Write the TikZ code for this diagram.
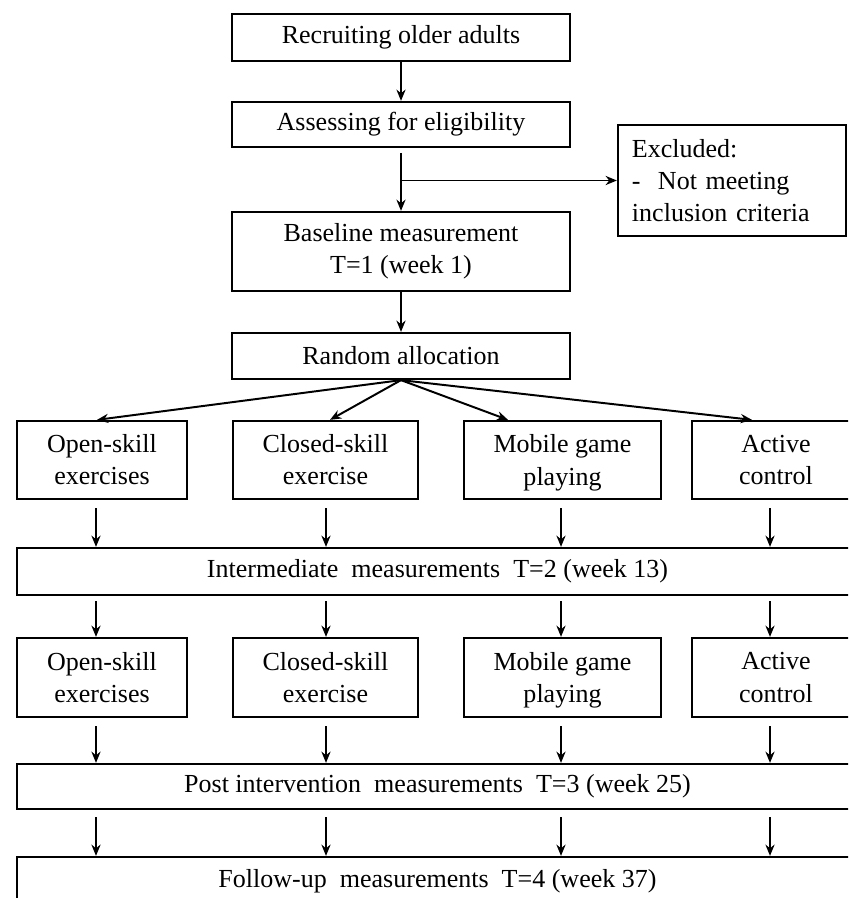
\documentclass[tikz,border=0pt]{standalone}
\usepackage{fontspec}
\setmainfont{Liberation Serif}
\usetikzlibrary{arrows.meta,calc}

\begin{document}
\begin{tikzpicture}[x=0.025cm, y=-0.025cm, font=\fontsize{18.5}{22.8}\selectfont,
    box/.style={draw, line width=1.6pt, inner sep=0pt, align=center},
    arr/.style={line width=1.4pt, -{Stealth[length=8pt, width=6.5pt]}}]

    % Picture frame, cut the wide boxes at the page edge
    \clip (0,0) rectangle (848,898);

    % Top column of the flow
    \node[box, minimum width=8.45cm, minimum height=1.175cm] (recruit) at (401,37.5) {Recruiting older adults};
    \node[box, minimum width=8.45cm, minimum height=1.125cm] (assess) at (401,124.5) {Assessing for eligibility};
    \node[box, minimum width=8.45cm, minimum height=1.975cm] (base) at (401,251.5) {Baseline measurement\\T=1 (week 1)};
    \node[box, minimum width=8.45cm, minimum height=1.15cm] (rand) at (401,356) {Random allocation};
    \node[box, align=left, text width=5.0cm, inner xsep=0.35cm, minimum height=2.775cm] (excl) at (732,180.5) {Excluded:\\-\ \ Not meeting\\inclusion criteria};

    \draw[arr] (recruit.south) -- (assess.north);
    \draw[arr, shorten <=0.12cm] (assess.south) -- (base.north);
    \coordinate (split) at (assess.south |- excl.west); % branch to the excluded box
    \draw[arr] (split) -- (excl.west);
    \draw[arr] (base.south) -- (rand.north);

    % Two rows of groups
    \foreach \g/\x/\w/\txt in {open/102/4.25/{Open-skill\\exercises}, closed/325.5/4.625/{Closed-skill\\exercise}, mobile/562.5/4.925/{Mobile game\\\smash{playing}}, active/776/4.2/{Active\\control}} {
        \node[box, minimum width=\w cm, minimum height=1.95cm] (\g1) at (\x,460) {\txt};
        \node[box, minimum width=\w cm, minimum height=1.975cm] (\g2) at (\x,677.5) {\txt};
    }

    % Wide measurement boxes
    \node[box, minimum width=21.025cm, minimum height=1.175cm] (inter) at (437.5,571.5) {Intermediate\ \ measurements\ \ T=2 (week 13)};
    \node[box, minimum width=21.025cm, minimum height=1.125cm] (post) at (437.5,786.5) {Post intervention\ \ measurements\ \ T=3 (week 25)};
    \node[box, minimum width=21.025cm, minimum height=1.2cm] (follow) at (437.5,881) {Follow-up\ \ measurements\ \ T=4 (week 37)};

    % Allocation fan
    \foreach \g/\dx in {open/-5, closed/4.5, mobile/-54.5, active/-24} {
        \draw[arr] (rand.south) -- ($(\g1.north)+(\dx,0)$);
    }

    % Down arrows between rows
    \foreach \g/\dx in {open/-6, closed/0.5, mobile/-1.5, active/-6} {
        \draw[arr, shorten <=0.2cm] ($(\g1.south)+(\dx,0)$) -- ($(\g1.south |- inter.north)+(\dx,0)$);
        \draw[arr, shorten <=0.125cm] ($(\g1.south |- inter.south)+(\dx,0)$) -- ($(\g2.north)+(\dx,0)$);
        \draw[arr, shorten <=0.2cm] ($(\g2.south)+(\dx,0)$) -- ($(\g2.south |- post.north)+(\dx,0)$);
        \draw[arr, shorten <=0.175cm] ($(\g2.south |- post.south)+(\dx,0)$) -- ($(\g2.south |- follow.north)+(\dx,0)$);
    }
\end{tikzpicture}
\end{document}
